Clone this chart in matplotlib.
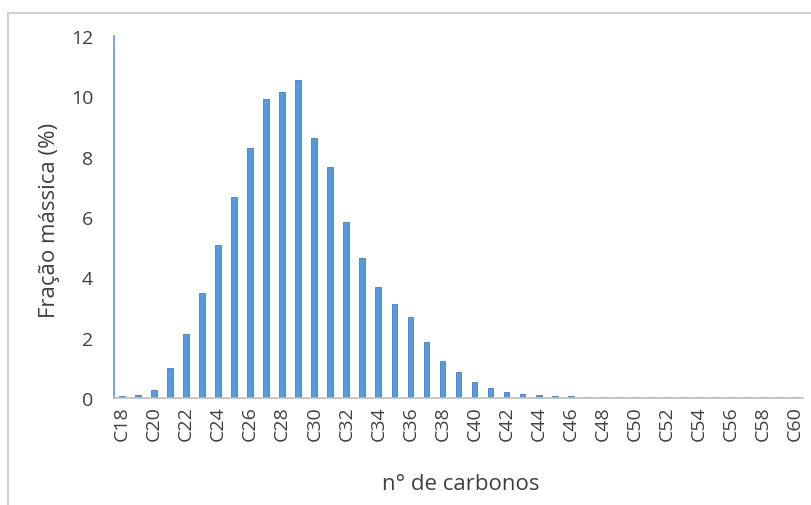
import numpy as np
import matplotlib.pyplot as plt
from matplotlib.patches import Rectangle

# data
carbons = [f"C{n}" for n in range(18, 61)]
fracao = [0.05, 0.10, 0.27, 0.99, 2.12, 3.48, 5.07, 6.66, 8.29, 9.91,
          10.14, 10.54, 8.62, 7.66, 5.83, 4.63, 3.67, 3.10, 2.68, 1.85,
          1.22, 0.85, 0.52, 0.32, 0.19, 0.13, 0.09, 0.07, 0.06, 0.04,
          0.03, 0.03, 0.03, 0.03, 0.03, 0.03, 0.03, 0.03, 0.03, 0.03,
          0.03, 0.03, 0.03]
yticks = [0, 2, 4, 6, 8, 10, 12]

plt.rcParams['font.family'] = ['Open Sans', 'DejaVu Sans']

fig = plt.figure(figsize=(8.12, 5.06), dpi=100)
ax = fig.add_axes([114/812, 1 - 399/506, (803 - 114)/812, (399 - 37)/506])

x = np.arange(len(carbons))
ax.bar(x, fracao, width=0.36, color='#5B9BD5', edgecolor='#4A7EBB', linewidth=0.6)

ax.set_xlim(-0.5, len(carbons) - 0.5)
ax.set_ylim(0, 12)
ax.set_yticks(yticks)
ax.set_yticklabels([str(t) for t in yticks], fontsize=14, color='#404040')
ax.set_xticks(x[::2])
ax.set_xticklabels(carbons[::2], rotation=90, fontsize=14, color='#404040')
ax.tick_params(axis='y', length=0, pad=15)
ax.tick_params(axis='x', length=0, pad=5)

# axes styling
for s in ['top', 'right']:
    ax.spines[s].set_visible(False)
ax.spines['left'].set_color('#5B9BD5')
ax.spines['left'].set_linewidth(1.2)
ax.spines['bottom'].set_color('#BFBFBF')
ax.spines['bottom'].set_linewidth(1.2)

fig.text(50/812, 1 - 220/506, 'Fração mássica (%)', rotation=90, ha='center', va='center',
         fontsize=16, color='#404040')
fig.text(461/812, 1 - 485/506, 'n° de carbonos', ha='center', va='center',
         fontsize=16, color='#404040')

# outer chart border
fig.patches.append(Rectangle((8/812, -0.1), 1.2, 1 - 14/506 + 0.1, transform=fig.transFigure,
                             fill=False, edgecolor='#D0D0D0', linewidth=1.5))

fig.savefig('out.png', dpi=100)
